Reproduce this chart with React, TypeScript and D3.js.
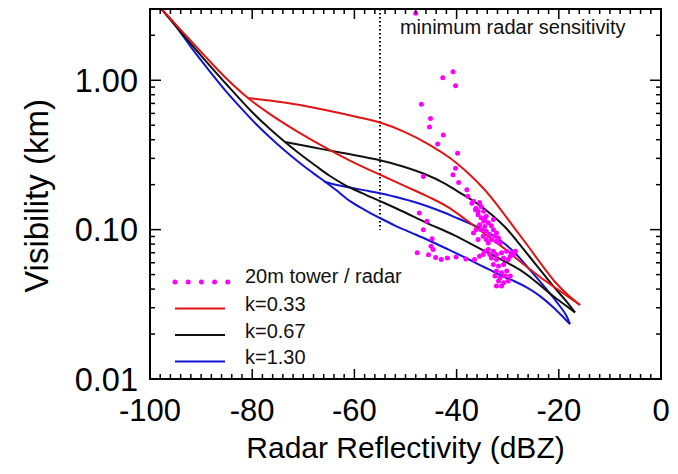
import React, { useEffect, useRef } from "react";
import * as d3 from "d3";

// reflectivity (dBZ) vs visibility (km)
const redLower: [number, number][] = [
  [-98.43, 3.19], [-94.13, 2.201], [-89.24, 1.452], [-84.74, 1.003], [-80.82, 0.76],
  [-76.52, 0.594], [-70.65, 0.443], [-64.77, 0.341], [-59.88, 0.279], [-54.4, 0.2285],
  [-50.1, 0.1957], [-45.21, 0.164], [-41.68, 0.1416], [-38.36, 0.1178], [-34.44, 0.0934],
  [-30.53, 0.0742], [-27.2, 0.0598], [-23.68, 0.0482], [-19.77, 0.0388], [-15.85, 0.0313],
];
const redUpper: [number, number][] = [
  [-80.82, 0.76], [-76.52, 0.731], [-70.65, 0.682], [-64.77, 0.622], [-59.88, 0.5715],
  [-54.99, 0.521], [-50.1, 0.45], [-45.21, 0.3684], [-41.29, 0.3015], [-37.77, 0.2392],
  [-34.64, 0.187], [-31.9, 0.1439], [-28.96, 0.1057], [-26.03, 0.0777], [-23.29, 0.0579],
  [-20.55, 0.0439], [-18.2, 0.0365], [-15.85, 0.0313],
];
const blackLower: [number, number][] = [
  [-98.43, 3.19], [-94.13, 2.135], [-89.24, 1.365], [-84.74, 0.915], [-80.04, 0.613],
  [-76.52, 0.4715], [-73.58, 0.386], [-70.65, 0.3206], [-67.51, 0.2665], [-64.77, 0.2285],
  [-61.84, 0.1988], [-58.51, 0.1758], [-54.99, 0.1553], [-50.49, 0.1322], [-45.79, 0.1107],
  [-40.51, 0.092], [-35.81, 0.0759], [-31.51, 0.0636], [-27.59, 0.0537], [-24.66, 0.0453],
  [-22.11, 0.0382], [-19.57, 0.0328], [-16.83, 0.0279],
];
const blackUpper: [number, number][] = [
  [-73.58, 0.386], [-67.91, 0.3543], [-62.23, 0.3256], [-55.19, 0.2923], [-50.49, 0.2645],
  [-45.79, 0.232], [-42.47, 0.205], [-39.73, 0.1799], [-35.81, 0.1483], [-33.07, 0.1253],
  [-30.53, 0.1041], [-28.18, 0.0839], [-25.83, 0.0666], [-23.29, 0.052], [-20.74, 0.0406],
  [-18.59, 0.0333], [-16.83, 0.0279],
];
const blueLower: [number, number][] = [
  [-98.43, 3.19], [-95.11, 2.342], [-91.98, 1.668], [-88.65, 1.188], [-85.32, 0.86],
  [-82.0, 0.6414], [-78.86, 0.4936], [-75.54, 0.3858], [-72.6, 0.3157], [-69.67, 0.2624],
  [-66.73, 0.2215], [-63.6, 0.1841], [-60.86, 0.1553], [-57.93, 0.1353], [-54.99, 0.1196],
  [-52.05, 0.1065], [-48.92, 0.0956], [-45.6, 0.0852], [-42.47, 0.0759], [-38.55, 0.0656],
  [-35.81, 0.0588], [-33.46, 0.0537], [-31.12, 0.0489], [-28.77, 0.0453], [-26.03, 0.0406],
  [-23.68, 0.0359], [-20.94, 0.0299], [-18.98, 0.0256], [-17.81, 0.0233],
];
const blueUpper: [number, number][] = [
  [-65.95, 0.2099], [-63.41, 0.1988], [-60.86, 0.1913], [-57.93, 0.1832], [-55.19, 0.1758],
  [-52.05, 0.1658], [-48.92, 0.1553], [-45.6, 0.1428], [-42.47, 0.1302], [-39.73, 0.1187],
  [-37.38, 0.1098], [-35.03, 0.1009], [-32.68, 0.0906], [-30.53, 0.0801], [-28.57, 0.0697],
  [-26.61, 0.0588], [-24.46, 0.0482], [-22.11, 0.0388], [-19.96, 0.0313], [-18.59, 0.0268],
  [-17.81, 0.0233],
];

// 20m tower / radar observations
const towerPoints: [number, number][] = [
  [-48.0, 2.81], [-40.7, 1.14], [-42.7, 1.04], [-40.2, 0.92], [-46.9, 0.69],
  [-45.1, 0.555], [-45.3, 0.486], [-42.6, 0.43], [-43.7, 0.375], [-39.8, 0.325],
  [-40.2, 0.258], [-40.7, 0.233], [-46.5, 0.227], [-39.6, 0.207], [-38.0, 0.185],
  [-37.8, 0.167], [-36.7, 0.155], [-36.2, 0.139], [-37.0, 0.15], [-36.3, 0.136],
  [-35.2, 0.143], [-34.7, 0.133], [-34.2, 0.123], [-35.5, 0.152], [-35.8, 0.133],
  [-47.3, 0.129], [-45.8, 0.114], [-46.5, 0.1], [-44.8, 0.087], [-45.0, 0.0774],
  [-44.6, 0.0736], [-47.7, 0.07], [-45.5, 0.068], [-44.1, 0.065], [-43.0, 0.063],
  [-41.8, 0.0645], [-40.1, 0.0657], [-38.2, 0.0637], [-36.5, 0.0631],
  [-35.5, 0.0664], [-34.8, 0.0681], [-34.5, 0.0717],
  [-35.8, 0.126], [-35.2, 0.12], [-34.7, 0.114], [-35.5, 0.108], [-34.5, 0.105],
  [-33.8, 0.111], [-33.2, 0.106], [-32.8, 0.1], [-34.2, 0.0975], [-33.5, 0.0926],
  [-32.5, 0.0903], [-34.8, 0.0903], [-33.2, 0.0858], [-32.2, 0.0836], [-33.8, 0.0815],
  [-34.5, 0.117], [-36.2, 0.1], [-36.7, 0.095], [-32.8, 0.117], [-32.2, 0.095],
  [-31.8, 0.088], [-34.2, 0.0858], [-35.2, 0.1], [-35.8, 0.0858], [-31.5, 0.0815],
  [-33.8, 0.0736], [-32.8, 0.0717], [-32.2, 0.0681], [-31.2, 0.0699], [-30.2, 0.0717],
  [-29.2, 0.0699], [-33.2, 0.0647], [-32.2, 0.0631], [-30.8, 0.0647], [-29.9, 0.0631],
  [-32.8, 0.0585], [-31.8, 0.057], [-30.8, 0.0585], [-32.2, 0.0528], [-31.2, 0.0514],
  [-30.2, 0.0528], [-32.5, 0.0489], [-31.5, 0.0476], [-30.5, 0.0489], [-31.8, 0.0453],
  [-30.8, 0.0441], [-29.9, 0.0453], [-31.2, 0.0419], [-32.2, 0.0419], [-29.5, 0.0489],
  [-33.5, 0.0681], [-28.5, 0.0717], [-28.9, 0.0681], [-29.5, 0.0664],
];

const sensitivity = -55;
const sensitivityLabel = "minimum radar sensitivity";

const xTicks = [-100, -80, -60, -40, -20, 0];
const yTicks = [0.01, 0.1, 1];

const legendItems = [
  { label: "20m tower / radar", color: "#ff00ff", dotted: true },
  { label: "k=0.33", color: "#e01414", dotted: false },
  { label: "k=0.67", color: "#111111", dotted: false },
  { label: "k=1.30", color: "#1414d2", dotted: false },
];

const modelCurves = [
  { color: "#1414d2", lines: [blueLower, blueUpper] },
  { color: "#111111", lines: [blackLower, blackUpper] },
  { color: "#e01414", lines: [redLower, redUpper] },
];

const W = 678;
const H = 474;
const FONT = "'Liberation Sans', Arial, Helvetica, sans-serif";

export default function App() {
  const ref = useRef<SVGSVGElement | null>(null);

  useEffect(() => {
    const svg = d3.select(ref.current);
    svg.selectAll("*").remove();

    const left = 150, right = 661, top = 9, bottom = 379;

    const x = d3.scaleLinear().domain([-100, 0]).range([left, right]);
    const y = d3.scaleLog().domain([0.01, 3]).range([bottom, top]);

    svg.append("rect").attr("width", W).attr("height", H).attr("fill", "#fff");

    svg.append("defs")
      .append("clipPath")
      .attr("id", "plot-clip")
      .append("rect")
      .attr("x", left)
      .attr("y", top)
      .attr("width", right - left)
      .attr("height", bottom - top);

    const plot = svg.append("g").attr("clip-path", "url(#plot-clip)");

    // dotted sensitivity line
    plot.append("line")
      .attr("x1", x(sensitivity))
      .attr("x2", x(sensitivity))
      .attr("y1", top)
      .attr("y2", y(0.1))
      .attr("stroke", "#000")
      .attr("stroke-width", 2)
      .attr("stroke-dasharray", "1.5,2.5");

    const line = d3
      .line<[number, number]>()
      .x((d) => x(d[0]))
      .y((d) => y(d[1]))
      .curve(d3.curveCatmullRom.alpha(0.5));

    modelCurves.forEach((c) => {
      c.lines.forEach((pts) => {
        plot.append("path")
          .attr("d", line(pts))
          .attr("fill", "none")
          .attr("stroke", c.color)
          .attr("stroke-width", 2)
          .attr("stroke-linejoin", "round");
      });
    });

    plot.selectAll("circle.obs")
      .data(towerPoints)
      .join("circle")
      .attr("class", "obs")
      .attr("cx", (d) => x(d[0]))
      .attr("cy", (d) => y(d[1]))
      .attr("r", 2.5)
      .attr("fill", "#ff00ff");

    // frame
    svg.append("rect")
      .attr("x", left)
      .attr("y", top)
      .attr("width", right - left)
      .attr("height", bottom - top)
      .attr("fill", "none")
      .attr("stroke", "#000")
      .attr("stroke-width", 2);

    const ticks = svg.append("g").attr("stroke", "#000").attr("stroke-width", 1.5);

    // x ticks, bottom and top
    d3.range(-100, 0.1, 2).forEach((v) => {
      const len = xTicks.includes(v) ? 10 : 5;
      ticks.append("line").attr("x1", x(v)).attr("x2", x(v)).attr("y1", bottom).attr("y2", bottom - len);
      ticks.append("line").attr("x1", x(v)).attr("x2", x(v)).attr("y1", top).attr("y2", top + len);
    });

    // y ticks, left and right
    const minor: number[] = [];
    yTicks.forEach((dec) => {
      d3.range(2, 10).forEach((m) => {
        if (dec * m <= 3) minor.push(dec * m);
      });
    });
    [...yTicks.map((v) => [v, 11]), ...minor.map((v) => [v, 5])].forEach(([v, len]) => {
      ticks.append("line").attr("x1", left).attr("x2", left + len).attr("y1", y(v)).attr("y2", y(v));
      ticks.append("line").attr("x1", right).attr("x2", right - len).attr("y1", y(v)).attr("y2", y(v));
    });

    const fmtY = d3.format(".2f");
    svg.append("g")
      .selectAll("text")
      .data(yTicks)
      .join("text")
      .attr("x", left - 12)
      .attr("y", (d) => y(d))
      .attr("dy", "0.36em")
      .attr("text-anchor", "end")
      .attr("font-family", FONT)
      .attr("font-size", 32.5)
      .text((d) => fmtY(d));

    svg.append("g")
      .selectAll("text")
      .data(xTicks)
      .join("text")
      .attr("x", (d) => x(d))
      .attr("y", 421)
      .attr("text-anchor", "middle")
      .attr("font-family", FONT)
      .attr("font-size", 31)
      .text((d) => String(d));

    svg.append("text")
      .attr("x", (left + right) / 2)
      .attr("y", 458)
      .attr("text-anchor", "middle")
      .attr("font-family", FONT)
      .attr("font-size", 30)
      .text("Radar Reflectivity (dBZ)");

    svg.append("text")
      .attr("transform", `translate(48,${(top + bottom) / 2 + 2}) rotate(-90)`)
      .attr("text-anchor", "middle")
      .attr("font-family", FONT)
      .attr("font-size", 33)
      .text("Visibility (km)");

    svg.append("text")
      .attr("x", x(sensitivity) + 20)
      .attr("y", 34)
      .attr("font-family", FONT)
      .attr("font-size", 20)
      .attr("fill", "#111")
      .text(sensitivityLabel);

    // legend
    const legend = svg.append("g");
    legendItems.forEach((item, i) => {
      const ly = 282 + i * 26.5;
      if (item.dotted) {
        legend.append("line")
          .attr("x1", 175).attr("x2", 228).attr("y1", ly).attr("y2", ly)
          .attr("stroke", item.color)
          .attr("stroke-width", 5)
          .attr("stroke-linecap", "round")
          .attr("stroke-dasharray", "0,13.2");
      } else {
        legend.append("line")
          .attr("x1", 175).attr("x2", 225).attr("y1", ly).attr("y2", ly)
          .attr("stroke", item.color)
          .attr("stroke-width", 2);
      }
      legend.append("text")
        .attr("x", 245)
        .attr("y", ly + (item.dotted ? 1 : 2.5))
        .attr("font-family", FONT)
        .attr("font-size", 20)
        .attr("fill", "#111")
        .text(item.label);
    });
  }, []);

  return <svg ref={ref} width={W} height={H} style={{ display: "block", margin: -8 }} />;
}
